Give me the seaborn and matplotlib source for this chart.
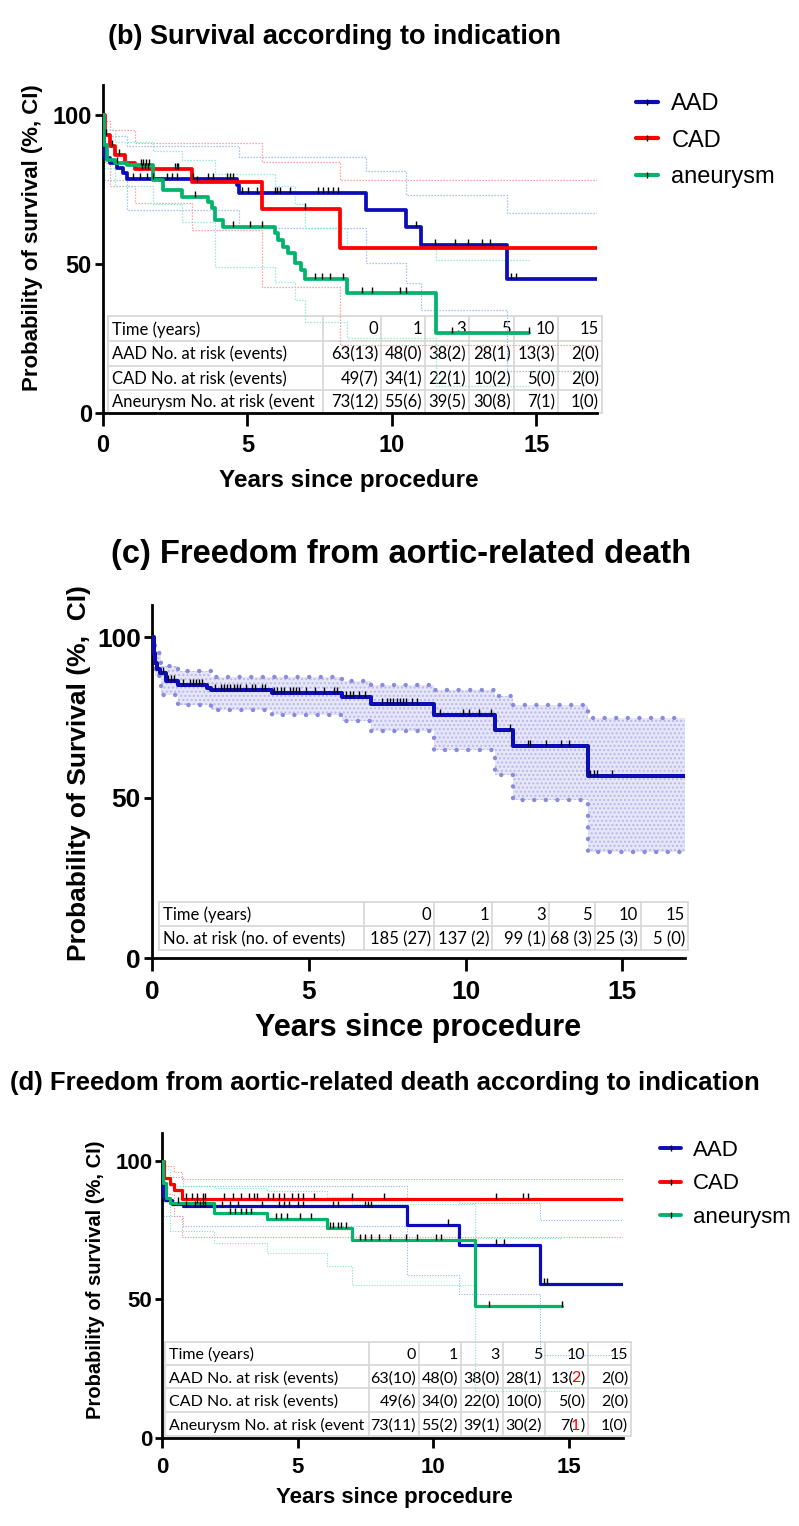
import numpy as np
import pandas as pd
import matplotlib
matplotlib.use("Agg")
import matplotlib.pyplot as plt
import seaborn as sns
from matplotlib.lines import Line2D

sns.set_theme(style="white")
plt.rcParams['font.family'] = ['Liberation Sans', 'DejaVu Sans']
plt.rcParams['text.color'] = 'black'
plt.rcParams['axes.labelcolor'] = 'black'
plt.rcParams['xtick.color'] = 'black'
plt.rcParams['ytick.color'] = 'black'

# ---------------- data ----------------
groups = ['AAD', 'CAD', 'aneurysm']
table_times = ['0', '1', '3', '5', '10', '15']

# (b) overall survival by indication: step times (years) and survival (%)
b_aad_t = [0, 0.02, 0.07, 0.24, 0.47, 0.70, 0.82, 4.63, 4.72, 9.09, 10.5, 11.0, 14.0]
b_aad_s = [100, 86.6, 85.5, 83.9, 82.1, 80.5, 78.5, 76.5, 73.9, 68.1, 62.5, 56.2, 44.9]
b_cad_t = [0, 0.07, 0.24, 0.42, 0.76, 1.1, 3.07, 5.49, 8.2]
b_cad_s = [100, 93.3, 89.4, 86.6, 83.8, 81.8, 77.6, 68.4, 55.3]
b_an_t = [0, 0.02, 0.13, 0.42, 0.82, 1.74, 2.09, 2.72, 3.64, 3.76, 3.88, 4.16, 5.95,
          6.06, 6.24, 6.41, 6.64, 6.87, 6.99, 8.43, 11.54]
b_an_s = [100, 89.9, 84.9, 83.8, 83.2, 78.2, 74.8, 72.6, 70.9, 68.7, 64.8, 62.5, 60.3,
          58.0, 55.8, 53.6, 50.2, 48.0, 44.9, 40.4, 26.9]
b_end = [17.1, 17.1, 14.75]

# (b) confidence limits
b_aad_ci_t = [0, 0.05, 0.82, 4.72, 9.09, 10.5, 11.0, 14.0]
b_aad_hi = [100, 93, 89.4, 86, 81, 73.2, 73.2, 67]
b_aad_lo = [100, 78, 68, 62, 50.4, 43.6, 34.6, 14]
b_cad_ci_t = [0, 0.07, 0.24, 1.1, 3.07, 5.49, 8.2]
b_cad_hi = [100, 98, 95, 90.6, 90.6, 84.3, 78]
b_cad_lo = [100, 84, 76, 70.4, 61.4, 42.4, 22.8]
b_an_ci_t = [0, 0.05, 0.42, 1.74, 2.72, 3.88, 5.95, 6.64, 6.99, 8.43, 11.54]
b_an_hi = [100, 95, 91, 88, 85, 80, 76, 70, 62, 55, 51.3]
b_an_lo = [100, 82, 76, 70, 64, 49, 44, 38, 30.6, 25.3, 9]

# (b) censored observations (years)
b_aad_cens = [1.05, 1.28, 1.51, 1.74, 2.2, 2.38, 2.55, 3.13, 3.64, 3.82, 4.28, 4.39, 4.51,
              4.8, 5.03, 5.32, 5.95, 6.01, 6.12, 6.47, 7.45, 7.62, 7.8, 7.97, 8.14,
              10.85, 11.49, 12.18, 12.64, 13.12, 13.39, 14.14, 14.29]
b_cad_cens = [0.1, 0.3, 0.55, 1.34, 1.45, 1.57, 2.49, 2.55, 2.6, 3.24, 6.99]
b_an_cens = [0.5, 1.3, 1.4, 1.5, 1.6, 3.2, 4.5, 5.09, 5.49, 7.34, 7.57, 7.86, 8.3,
             8.95, 9.3, 10.28, 10.5, 12.07, 14.75]

# (b) numbers at risk (events)
b_aad_risk = [63, 48, 38, 28, 13, 2]
b_aad_ev = [13, 0, 2, 1, 3, 0]
b_cad_risk = [49, 34, 22, 10, 5, 2]
b_cad_ev = [7, 1, 1, 2, 0, 0]
b_an_risk = [73, 55, 39, 30, 7, 1]
b_an_ev = [12, 6, 5, 8, 1, 0]

# (c) freedom from aortic-related death, all patients
c_t = [0, 0.05, 0.1, 0.15, 0.25, 0.46, 0.82, 1.75, 1.89, 3.82, 6.05, 6.98, 9.0, 10.95, 11.5, 13.9]
c_s = [100, 95, 92, 90, 88.8, 86.2, 85.1, 84.1, 83.6, 82.6, 81.3, 79.2, 75.8, 71.1, 66.2, 56.6]
c_ci_t = [0, 0.05, 0.1, 0.3, 0.82, 1.89, 3.82, 6.05, 6.98, 9.0, 10.95, 11.5, 13.9]
c_hi = [100, 98, 95, 91, 89.3, 87.7, 87.7, 86.2, 85.1, 83.6, 81.5, 78.9, 74.8]
c_lo = [100, 92, 88, 82, 78.9, 77.4, 75.8, 73.7, 70.6, 64.7, 57.1, 49.1, 33.0]
c_end = 17.0
c_cens = [0.35, 0.5, 0.6, 0.7, 1.0, 1.2, 1.3, 1.4, 1.5, 1.6, 2.0, 2.2, 2.3, 2.4, 2.5, 2.6,
          2.7, 2.8, 3.0, 3.2, 3.3, 3.5, 3.6, 3.9, 4.0, 4.1, 4.2, 4.4, 4.5, 4.6, 4.7, 4.9,
          5.2, 5.5, 5.8, 5.9, 6.2, 6.3, 6.4, 6.6, 6.8, 7.35, 7.5, 7.6, 7.7, 7.8, 7.9, 8.0,
          8.1, 8.3, 8.46, 9.19, 9.93, 10.1, 10.44, 10.8, 11.43, 11.99, 12.07, 12.57,
          13.05, 13.31, 13.96, 14.09, 14.2, 14.68]
c_risk = [185, 137, 99, 68, 25, 5]
c_ev = [27, 2, 1, 3, 3, 0]

# (d) freedom from aortic-related death by indication
d_aad_t = [0, 0.03, 0.12, 0.38, 0.79, 9.05, 10.95, 13.93]
d_aad_s = [100, 87.1, 85.9, 84.5, 83.5, 76.9, 69.7, 55.6]
d_cad_t = [0, 0.08, 0.29, 0.46, 0.75]
d_cad_s = [100, 93.8, 91.5, 89.5, 86.3]
d_an_t = [0, 0.03, 0.15, 0.3, 1.9, 3.86, 6.07, 7.0, 11.55]
d_an_s = [100, 92, 86.5, 84.8, 81.1, 79, 75.9, 71.5, 47.5]
d_end = [17.0, 17.0, 14.75]

d_aad_ci_t = [0, 0.05, 0.79, 9.05, 10.95, 13.93]
d_aad_hi = [100, 94, 91, 86, 84.7, 78.8]
d_aad_lo = [100, 80, 76.5, 58.9, 52, 30]
d_cad_ci_t = [0, 0.08, 0.46, 0.75]
d_cad_hi = [100, 98, 96, 93.5]
d_cad_lo = [100, 88, 80, 72.5]
d_an_ci_t = [0, 0.03, 0.3, 1.9, 3.86, 6.07, 7.0, 11.55]
d_an_hi = [100, 97, 91, 90, 89, 87, 84.5, 72]
d_an_lo = [100, 85, 74.5, 70.3, 66.7, 61.9, 55.3, 17]

d_aad_cens = [0.9, 1.2, 1.4, 1.5, 1.6, 2.2, 2.5, 2.8, 3.7, 4.3, 4.5, 4.7, 5.0, 5.2, 6.3,
              6.5, 7.5, 7.6, 7.7, 10.55, 12.3, 12.6, 14.1, 14.2]
d_cad_cens = [0.9, 1.1, 1.3, 1.5, 1.6, 2.3, 2.6, 2.9, 3.2, 3.4, 3.5, 3.9, 4.1, 4.3, 4.5,
              4.8, 5.0, 5.2, 5.6, 7.0, 8.2, 12.3, 13.3, 13.5]
d_an_cens = [0.6, 1.3, 1.5, 2.5, 2.7, 2.9, 3.1, 3.3, 4.2, 4.4, 4.6, 5.1, 5.5, 6.2, 6.3,
             6.5, 6.6, 6.8, 7.3, 7.5, 7.7, 8.0, 8.4, 9.0, 9.4, 10.1, 10.3, 12.07, 14.75]

d_aad_risk = [63, 48, 38, 28, 13, 2]
d_aad_ev = [10, 0, 0, 1, 2, 0]
d_cad_risk = [49, 34, 22, 10, 5, 2]
d_cad_ev = [6, 0, 0, 0, 0, 0]
d_an_risk = [73, 55, 39, 30, 7, 1]
d_an_ev = [11, 2, 1, 2, 1, 0]

# ---------------- style ----------------
col_main = {'AAD': '#0c0cb8', 'CAD': '#ff0000', 'aneurysm': '#00b46c'}
col_ci = {'AAD': '#8db4ee', 'CAD': '#ff8a8a', 'aneurysm': '#7ee6cf'}
TABLE_FONT = ['Lato', 'DejaVu Sans']
GRID = '#d9d9d9'

W, H = 799, 1526
fig = plt.figure(figsize=(W / 100, H / 100), dpi=100)
fig.patch.set_facecolor('white')


def fx(px):
    return px / W


def fy(py):
    return 1 - py / H


def make_axes(left, top, right, bottom):
    return fig.add_axes([fx(left), fy(bottom), (right - left) / W, (bottom - top) / H])


def km_df(t, s, end):
    return pd.DataFrame({'t': list(t) + [end], 's': list(s) + [s[-1]]})


def step_at(t, s, q):
    idx = np.searchsorted(np.asarray(t), np.asarray(q), side='right') - 1
    return np.asarray(s)[idx]


def curve(ax, t, s, end, color, lw, z=4):
    sns.lineplot(data=km_df(t, s, end), x='t', y='s', drawstyle='steps-post', color=color,
                 lw=lw, ax=ax, estimator=None, sort=False, zorder=z)


def ci_line(ax, t, s, end, color, lw=0.9):
    sns.lineplot(data=km_df(t, s, end), x='t', y='s', drawstyle='steps-post', color=color,
                 lw=lw, ls=(0, (1, 1.4)), ax=ax, estimator=None, sort=False, zorder=2)


def censor(ax, t, s, times, ms=5, off=1.0):
    y = step_at(t, s, times) + off
    ax.plot(times, y, ls='none', marker='|', ms=ms, mew=1.0, color='black', zorder=6)


def style_axes(ax, xmax, fs, xlen, ylen, xpad, ypad, spw):
    ax.set(xlabel='', ylabel='')
    ax.set_xlim(0, xmax)
    ax.set_ylim(0, 110)
    ax.set_xticks([0, 5, 10, 15], ['0', '5', '10', '15'], fontweight='bold', fontsize=fs)
    ax.set_yticks([0, 50, 100], ['0', '50', '100'], fontweight='bold', fontsize=fs)
    sns.despine(ax=ax)
    for sp in ['left', 'bottom']:
        ax.spines[sp].set_linewidth(spw)
        ax.spines[sp].set_color('black')
    ax.tick_params(axis='x', bottom=True, length=xlen, width=2, pad=xpad, colors='black')
    ax.tick_params(axis='y', left=True, length=ylen, width=2, pad=ypad, colors='black')
    ax.set_facecolor('none')


def fmt(risk, ev, sep=''):
    return [f'{r}{sep}({e})' for r, e in zip(risk, ev)]


def table(ax, rows, cols, row_edges, fs, red=()):
    x0, x1 = cols[0], cols[-1]
    for y in row_edges:
        ax.add_artist(Line2D([fx(x0), fx(x1)], [fy(y), fy(y)], transform=fig.transFigure,
                             color=GRID, lw=1.3, clip_on=False, zorder=1))
    for x in cols:
        ax.add_artist(Line2D([fx(x), fx(x)], [fy(row_edges[0]), fy(row_edges[-1])],
                             transform=fig.transFigure, color=GRID, lw=1.3, clip_on=False, zorder=1))
    kw = dict(fontsize=fs, family=TABLE_FONT, va='baseline', zorder=1)
    for r, row in enumerate(rows):
        base = fy((row_edges[r] + row_edges[r + 1]) / 2 + 0.36 * fs * 100 / 72)
        ax.text(fx(x0 + 4), base, row[0], ha='left', transform=fig.transFigure, **kw)
        for c, val in enumerate(row[1:]):
            xr = fx(cols[c + 2] - 3)
            if (r, c) in red:
                # black "n(" + red events + black ")", chained right to left
                i = val.index('(')
                last = ax.text(xr, base, ')', ha='right', transform=fig.transFigure, **kw)
                for txt, clr, dx in ((val[i + 1:-1], 'red', -0.4), (val[:i + 1], 'black', 1.8)):
                    last = ax.annotate(txt, xy=(0, base), xycoords=(last, fig.transFigure),
                                       xytext=(dx, 0), textcoords='offset points',
                                       ha='right', color=clr, annotation_clip=False, **kw)
            else:
                ax.text(xr, base, val, ha='right', transform=fig.transFigure, **kw)


def legend(handles_colors, left, top, fs, lw, spacing):
    hs = [(Line2D([], [], color=c, lw=lw),
           Line2D([], [], ls='none', marker='|', color='black', ms=4, mew=1)) for c in handles_colors]
    fig.legend(hs, groups, loc='upper left', bbox_to_anchor=(fx(left), fy(top)), frameon=False,
               fontsize=fs, handlelength=0.95, handletextpad=0.55, labelspacing=spacing,
               borderpad=0, borderaxespad=0)


# ---------------- panel (b) ----------------
axb = make_axes(103, 85, 597, 413)
b_curves = [(b_aad_t, b_aad_s), (b_cad_t, b_cad_s), (b_an_t, b_an_s)]
b_cis = [(b_aad_ci_t, b_aad_hi, b_aad_lo), (b_cad_ci_t, b_cad_hi, b_cad_lo),
         (b_an_ci_t, b_an_hi, b_an_lo)]
b_cens = [b_aad_cens, b_cad_cens, b_an_cens]
for g, (ct, hi, lo), end in zip(groups, b_cis, b_end):
    ci_line(axb, ct, hi, end, col_ci[g])
    ci_line(axb, ct, lo, end, col_ci[g])
for g, (t, s), cen, end in zip(groups, b_curves, b_cens, b_end):
    curve(axb, t, s, end, col_main[g], 2.7)
    censor(axb, t, s, cen)
style_axes(axb, 17.1, 17, 9, 6, 6, 2, 2)
table(axb, [['Time (years)'] + table_times,
            ['AAD No. at risk (events)'] + fmt(b_aad_risk, b_aad_ev),
            ['CAD No. at risk (events)'] + fmt(b_cad_risk, b_cad_ev),
            ['Aneurysm No. at risk (event'] + fmt(b_an_risk, b_an_ev)],
      [108, 323, 381, 425, 469, 514, 558, 602], [316, 341, 366, 390, 413], 12)
legend([col_main[g] for g in groups], 636, 93, 17, 3, 0.62)
fig.text(fx(335), fy(37), '(b) Survival according to indication', ha='center', va='center',
         fontsize=19.5, fontweight='bold')
fig.text(fx(33), fy(238), 'Probability of survival (%, CI)', rotation=90, ha='center',
         va='center', fontsize=16, fontweight='bold')
fig.text(fx(349), fy(480), 'Years since procedure', ha='center', va='center',
         fontsize=17.5, fontweight='bold')

# ---------------- panel (c) ----------------
axc = make_axes(152, 605, 685, 958)
axc.fill_between(c_ci_t + [c_end], c_lo + [c_lo[-1]], c_hi + [c_hi[-1]], step='post',
                 facecolor='#e6e6f8', edgecolor='#b8b8ec', hatch='....', lw=0, zorder=1)
for band in (c_hi, c_lo):
    sns.lineplot(data=km_df(c_ci_t, band, c_end), x='t', y='s', drawstyle='steps-post',
                 color='#8a8ade', lw=3.2, ls=(0, (0.01, 2.6)), dash_capstyle='round',
                 ax=axc, estimator=None, sort=False, zorder=2)
curve(axc, c_t, c_s, c_end, col_main['AAD'], 2.9)
censor(axc, c_t, c_s, c_cens, ms=5, off=0.9)
style_axes(axc, 17, 19, 9, 6, 7, 2, 2)
table(axc, [['Time (years)'] + table_times,
            ['No. at risk (no. of events)'] + fmt(c_risk, c_ev, ' ')],
      [159, 364, 434, 492, 549, 595, 641, 688], [902, 926, 950], 12)
fig.text(fx(401), fy(555), '(c) Freedom from aortic-related death', ha='center', va='center',
         fontsize=23.5, fontweight='bold')
fig.text(fx(79), fy(773), 'Probability of Survival (%,  CI)', rotation=90, ha='center',
         va='center', fontsize=19, fontweight='bold')
fig.text(fx(418), fy(1028), 'Years since procedure', ha='center', va='center',
         fontsize=22, fontweight='bold')

# ---------------- panel (d) ----------------
axd = make_axes(162, 1133, 623, 1438)
d_curves = [(d_aad_t, d_aad_s), (d_cad_t, d_cad_s), (d_an_t, d_an_s)]
d_cis = [(d_aad_ci_t, d_aad_hi, d_aad_lo), (d_cad_ci_t, d_cad_hi, d_cad_lo),
         (d_an_ci_t, d_an_hi, d_an_lo)]
d_cens = [d_aad_cens, d_cad_cens, d_an_cens]
for g, (ct, hi, lo), end in zip(groups, d_cis, d_end):
    ci_line(axd, ct, hi, end, col_ci[g], 0.8)
    ci_line(axd, ct, lo, end, col_ci[g], 0.8)
for g, (t, s), cen, end in zip(groups, d_curves, d_cens, d_end):
    curve(axd, t, s, end, col_main[g], 2.3)
    censor(axd, t, s, cen, ms=4, off=0.9)
style_axes(axd, 17, 16, 7, 5, 7, 2, 2)
table(axd, [['Time (years)'] + table_times,
            ['AAD No. at risk (events)'] + fmt(d_aad_risk, d_aad_ev),
            ['CAD No. at risk (events)'] + fmt(d_cad_risk, d_cad_ev),
            ['Aneurysm No. at risk (event'] + fmt(d_an_risk, d_an_ev)],
      [165, 369, 419, 461, 503, 545, 588, 631], [1342, 1365, 1388, 1412, 1436], 11.5,
      red={(1, 4), (3, 4)})
legend([col_main[g] for g in groups], 660, 1140, 16, 2.8, 0.56)
fig.text(fx(385), fy(1083), '(d) Freedom from aortic-related death according to indication',
         ha='center', va='center', fontsize=18.5, fontweight='bold')
fig.text(fx(96), fy(1280), 'Probability of survival (%, CI)', rotation=90, ha='center',
         va='center', fontsize=14.5, fontweight='bold')
fig.text(fx(394), fy(1498), 'Years since procedure', ha='center', va='center',
         fontsize=16, fontweight='bold')

fig.savefig('out.png', dpi=100, facecolor='white')
